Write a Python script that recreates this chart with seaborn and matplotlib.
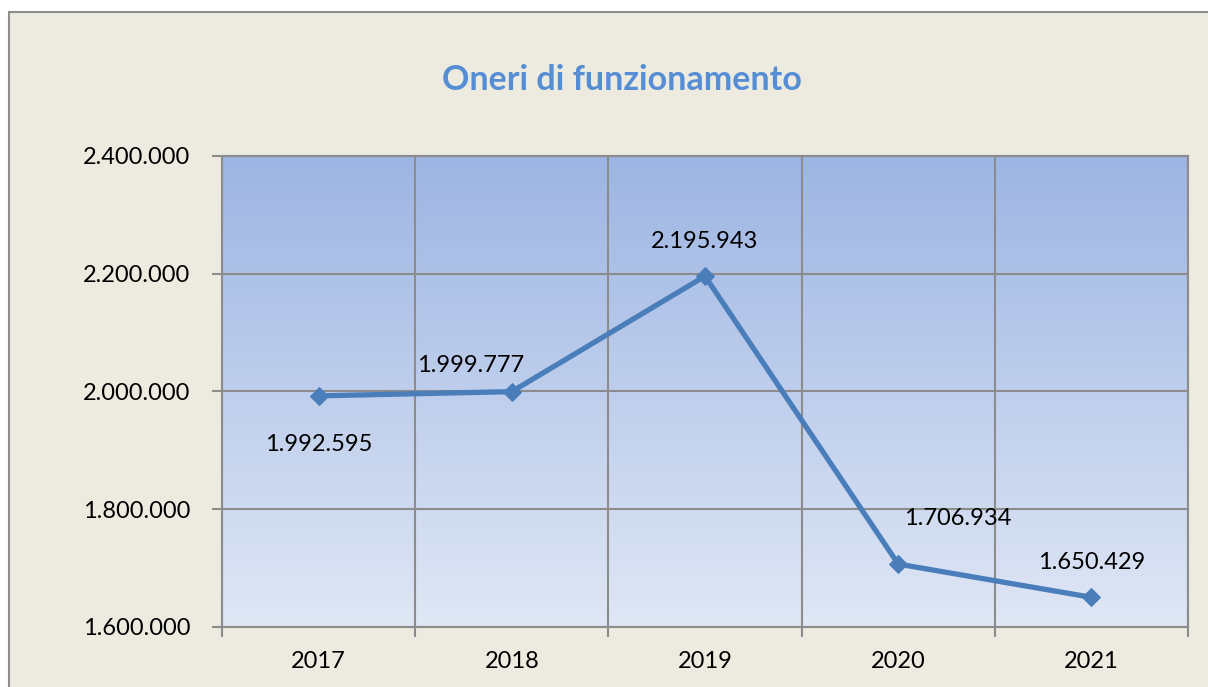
import numpy as np
import pandas as pd
import matplotlib
matplotlib.use("Agg")
import matplotlib.pyplot as plt
import matplotlib.patches as mpatches
from matplotlib.colors import LinearSegmentedColormap
from matplotlib.ticker import FixedLocator, FuncFormatter
import seaborn as sns

years = ["2017", "2018", "2019", "2020", "2021"]
values = [1992595, 1999777, 2195943, 1706934, 1650429]
label_texts = ["1.992.595", "1.999.777", "2.195.943", "1.706.934", "1.650.429"]
y_ticks = [1600000, 1800000, 2000000, 2200000, 2400000]

sns.set_theme(style="white")
plt.rcParams['font.family'] = ['Lato', 'DejaVu Sans']

W, H = 1208, 687
fig = plt.figure(figsize=(W / 100, H / 100), dpi=100, facecolor="white")

# outer chart frame
frame = mpatches.Rectangle((9 / W, -0.1), 1.2, 1.1 - 12 / H, transform=fig.transFigure,
                           facecolor="#EDEBE0", edgecolor="#8C8C8C", linewidth=1.5,
                           zorder=-10)
fig.patches.append(frame)

ax = fig.add_axes([222 / W, 1 - 627 / H, (1188 - 222) / W, (627 - 156) / H])
ax.set_zorder(1)
ax.set_facecolor("none")

# gradient background
cmap = LinearSegmentedColormap.from_list("grad", ["#E0E7F5", "#9DB5E3"])
grad = np.linspace(0, 1, 256).reshape(-1, 1)
ax.imshow(grad, aspect="auto", cmap=cmap, origin="lower",
          extent=[0, 1, 0, 1], transform=ax.transAxes, zorder=0)

df = pd.DataFrame({"x": np.arange(len(years)), "value": values})
sns.lineplot(data=df, x="x", y="value", ax=ax, color="#4A7EBB", linewidth=3.8,
             marker="D", markersize=9, markeredgecolor="#4A7EBB", zorder=5)

ax.set_xlim(-0.5, len(years) - 0.5)
ax.set_ylim(y_ticks[0], y_ticks[-1])

ax.xaxis.set_major_locator(FixedLocator(list(range(len(years)))))
ax.set_xticklabels(years)
ax.xaxis.set_minor_locator(FixedLocator([i - 0.5 for i in range(len(years) + 1)]))
ax.yaxis.set_major_locator(FixedLocator(y_ticks))
ax.yaxis.set_major_formatter(FuncFormatter(lambda v, p: f"{int(v):,}".replace(",", ".")))

ax.grid(which="minor", axis="x", color="#8C8C8C", linewidth=1.5, zorder=1)
ax.grid(which="major", axis="y", color="#8C8C8C", linewidth=1.5, zorder=1)
ax.grid(which="major", axis="x", visible=False)

ax.tick_params(axis="x", which="major", length=0, pad=17, labelsize=17, labelcolor="black")
ax.tick_params(axis="x", which="minor", length=7, width=1.5, color="#8C8C8C", direction="out")
ax.tick_params(axis="y", which="major", length=7, width=1.5, color="#8C8C8C", direction="out",
               labelsize=17, labelcolor="black", pad=16)
ax.tick_params(left=True, bottom=True, which="both")
for sp in ax.spines.values():
    sp.set_color("#8C8C8C")
    sp.set_linewidth(1.5)
    sp.set_visible(True)

ax.set_xlabel("")
ax.set_ylabel("")

# data labels (offsets in points)
offsets = [(0, -35), (-30, 19), (0, 25), (43, 33), (0, 25)]
for i, (v, t) in enumerate(zip(values, label_texts)):
    ax.annotate(t, (i, v), xytext=offsets[i], textcoords="offset points",
                ha="center", va="center", fontsize=17, color="black", zorder=6)

fig.text(622 / W, 1 - 80 / H, "Oneri di funzionamento", ha="center", va="center",
         fontsize=24.5, fontweight="bold", color="#558ED5")

fig.savefig("out.png", dpi=100, facecolor="white")
